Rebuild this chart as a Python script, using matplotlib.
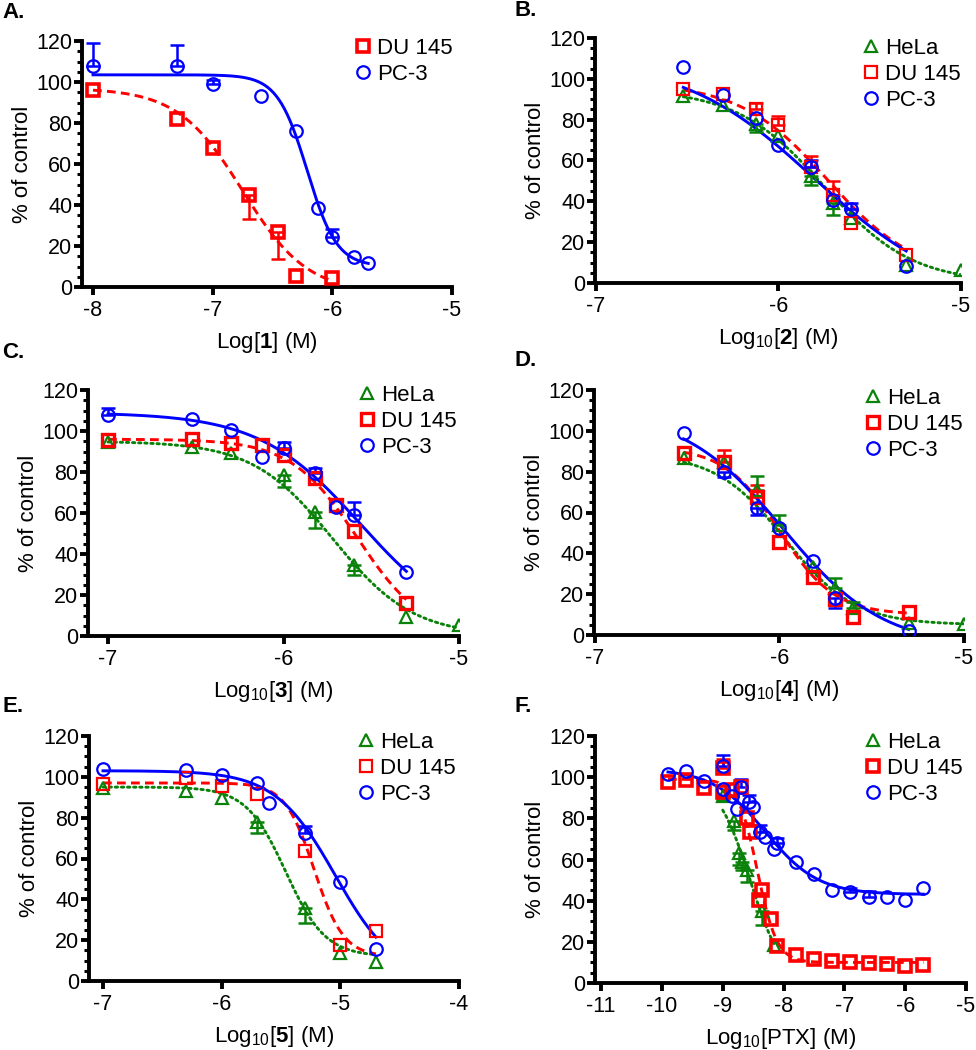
import numpy as np
import matplotlib
matplotlib.use('Agg')
import matplotlib.pyplot as plt
from matplotlib.ticker import MultipleLocator

plt.rcParams['font.family'] = ['Liberation Sans', 'DejaVu Sans']
plt.rcParams['mathtext.fontset'] = 'custom'
plt.rcParams['mathtext.rm'] = 'Liberation Sans'
plt.rcParams['mathtext.bf'] = 'Liberation Sans:bold'
plt.rcParams['mathtext.it'] = 'Liberation Sans:italic'

RED = '#ff0000'
BLUE = '#0000ff'
GREEN = '#0a820a'

# ---- data (log10 M, % of control) ----
# err: + = bar drawn up, - = bar drawn down ; fit = top, bottom, logIC50, hill
# A. compound 1
a_du_x = [-8.0, -7.3, -7.0, -6.7, -6.45, -6.3, -6.0]
a_du_y = [96, 82, 68, 45, 26.6, 5.5, 4.4]
a_du_err = [0, 0, 0, -12, -13, 0, 0]
a_du_fit = [97, -3, -6.75, 1.6]
a_pc_x = [-8.0, -7.3, -7.0, -6.6, -6.3, -6.12, -6.0, -5.82, -5.7]
a_pc_y = [108, 108, 99, 93, 76, 38.4, 24.2, 14.7, 11.8]
a_pc_err = [11, 10, 2, 0, 0, 0, 4, 0, 0]
a_pc_fit = [103.5, 10, -6.21, 3.5]

# B. compound 2
b_he_x = [-6.52, -6.3, -6.12, -6.0, -5.82, -5.7, -5.6, -5.3, -5.0]
b_he_y = [91.4, 87.3, 78, 71.8, 52.2, 39.2, 31.8, 9, 6.2]
b_he_err = [0, 0, -4, 0, -4, -6, 0, 0, 0]
b_he_fit = [95, 0, -5.75, 1.8]
b_du_x = [-6.52, -6.3, -6.12, -6.0, -5.82, -5.7, -5.6, -5.3]
b_du_y = [95, 92.6, 85.2, 77.6, 57, 43.3, 29.4, 13.6]
b_du_err = [0, 0, 3, 4, 5, 6.5, 0, 0]
b_du_fit = [98, 3, -5.73, 1.8]
b_pc_x = [-6.52, -6.3, -6.12, -6.0, -5.82, -5.7, -5.6, -5.3]
b_pc_y = [105.6, 92.2, 80.8, 67.8, 57, 40.8, 36.2, 8.2]
b_pc_err = [0, 0, 0, 0, 3, 0, 3, 0]
b_pc_fit = [110, -8, -5.8, 1.2]

# C. compound 3
c_he_x = [-7.0, -6.52, -6.3, -6.0, -5.82, -5.6, -5.3, -5.0]
c_he_y = [94.8, 92.4, 89.1, 78.5, 60.7, 34.6, 9.4, 5.4]
c_he_err = [0, 0, 0, -6, -8, -5, 0, 0]
c_he_fit = [95, 0, -5.72, 1.9]
c_du_x = [-7.0, -6.52, -6.3, -6.12, -6.0, -5.82, -5.7, -5.6, -5.3]
c_du_y = [95.6, 96, 94.3, 93.2, 88.3, 77, 63.9, 51, 15.9]
c_du_err = [0, 0, 0, 0, 0, 0, 0, 0, 0]
c_du_fit = [96, 0, -5.58, 2.3]
c_pc_x = [-7.0, -6.52, -6.3, -6.12, -6.0, -5.82, -5.7, -5.6, -5.3]
c_pc_y = [107.8, 105.9, 100.5, 87.5, 91.5, 79.3, 63.1, 59, 31.4]
c_pc_err = [3.5, 0, 0, 0, 3, 2.5, 0, 6.5, 0]
c_pc_fit = [109, 0, -5.56, 1.5]

# D. compound 4
d_he_x = [-6.52, -6.3, -6.12, -6.0, -5.82, -5.7, -5.6, -5.3, -5.0]
d_he_y = [86.5, 84.9, 71, 53.9, 33.5, 22.9, 13.1, 5.7, 5.2]
d_he_err = [0, 0, 7, 5, 0, 5, 3, 0, 0]
d_he_fit = [89, 5, -5.97, 2.3]
d_du_x = [-6.52, -6.3, -6.12, -6.0, -5.82, -5.7, -5.6, -5.3]
d_du_y = [89.3, 84.9, 67.8, 45.7, 28.6, 17.5, 9, 11.4]
d_du_err = [0, 5.7, 5.7, 0, 0, 0, 0, 0]
d_du_fit = [92, 10, -6.0, 2.9]
d_pc_x = [-6.52, -6.3, -6.12, -6.0, -5.82, -5.7, -5.3]
d_pc_y = [98.8, 80, 62, 52.2, 36.2, 18, 2.1]
d_pc_err = [0, -2.5, -3.2, 0, 0, -5, 0]
d_pc_fit = [110, -6, -5.98, 1.6]

# E. compound 5
e_he_x = [-7.0, -6.3, -6.0, -5.7, -5.3, -5.0, -4.7]
e_he_y = [94.7, 93.2, 89.5, 78, 35.6, 13.9, 9.5]
e_he_err = [0, 0, 0, -5.4, -7.4, 0, 0]
e_he_fit = [95, 12, -5.46, 2.6]
e_du_x = [-7.0, -6.3, -6.0, -5.7, -5.3, -5.0, -4.7]
e_du_y = [96.5, 99.3, 95.7, 91.4, 63.7, 17.6, 24.5]
e_du_err = [0, 0, 0, 0, 0, 0, 0]
e_du_fit = [97, 12, -5.22, 3.5]
e_pc_x = [-7.0, -6.3, -6.0, -5.7, -5.6, -5.3, -5.0, -4.7]
e_pc_y = [103.8, 103.3, 100.9, 97.1, 87.3, 72.3, 48.6, 15.5]
e_pc_err = [0, 0, 0, 0, 0, 3.6, 0, 0]
e_pc_fit = [103, 0, -5.04, 1.7]

# F. PTX
f_he_x = [-9.0, -8.82, -8.74, -8.68, -8.6, -8.36, -8.15]
f_he_y = [90.9, 78.8, 63, 59, 55, 35.1, 18.6]
f_he_err = [-2, -4.4, -5.6, -4, -5.7, -6.8, 0]
f_he_fit = [100, 0, -8.55, 1.6]
f_du_x = [-9.9, -9.6, -9.3, -9.0, -9.0, -8.84, -8.7, -8.6, -8.55, -8.4, -8.35,
          -8.2, -8.1, -7.8, -7.5, -7.2, -6.9, -6.6, -6.3, -6.0, -5.7]
f_du_y = [97.5, 98.7, 94.9, 104.6, 93, 93.8, 95, 80, 73.6, 40.4, 45.3,
          31, 17.8, 13.7, 11.6, 10.5, 10, 9.7, 9.4, 8.4, 8.9]
f_du_err = [0, 0, 0, 4, 0, 0, 0, 0, 0, 0, 0, 0, 0, 0, 0, 0, 0, 0, 0, 0, 0]
f_du_fit = [99, 10, -8.43, 2.7]
f_pc_x = [-9.9, -9.6, -9.3, -9.0, -9.0, -8.84, -8.76, -8.7, -8.56, -8.51, -8.38,
          -8.3, -8.15, -8.1, -7.8, -7.5, -7.2, -6.9, -6.6, -6.3, -6.0, -5.7]
f_pc_y = [101.4, 103, 98.3, 105.5, 94.1, 90.9, 84.6, 95.1, 87.7, 85.4, 73.6,
          70.8, 65, 67.9, 59, 52.9, 45, 44, 42, 42, 40.1, 46.1]
f_pc_err = [0, 0, 0, 5.5, 0, 0, 0, 4, 3.7, 0, 3, 0, 0, 2.5, 0, 0, 0, 2, 2.5, 0, 0, 0]
f_pc_fit = [104, 43, -8.3, 1.0]

W, H = 976, 1050
fig = plt.figure(figsize=(W / 100, H / 100), dpi=100)

LW = 2.1
FS = 15.5      # tick labels
FS_LAB = 16    # axis labels, legend


def sigmoid(x, p):
    top, bottom, ic50, hill = p
    return bottom + (top - bottom) / (1 + 10 ** ((x - ic50) * hill))


STYLE = {
    'HeLa': dict(color=GREEN, marker='^', ls=(0, (0.8, 1.3))),
    'DU 145': dict(color=RED, marker='s', ls=(0, (3.0, 1.8))),
    'PC-3': dict(color=BLUE, marker='o', ls='-'),
}


def panel(box, xlim, xticks, xlabel, series, legend_xy, sq_mew=1.6):
    left, right, top, bottom = box
    ax = fig.add_axes([left / W, 1 - bottom / H, (right - left) / W, (bottom - top) / H])
    handles = []
    for name, x, y, err, fit in series:
        st = STYLE[name]
        x = np.array(x)
        y = np.array(y)
        err = np.array(err, dtype=float)
        xx = np.linspace(x.min(), x.max(), 300)
        ax.plot(xx, sigmoid(xx, fit), color=st['color'], lw=LW, ls=st['ls'],
                dash_capstyle='round' if name == 'HeLa' else 'butt', zorder=2)
        lo = np.where(err < 0, -err, 0)
        hi = np.where(err > 0, err, 0)
        m = err != 0
        if m.any():
            ax.errorbar(x[m], y[m], yerr=[lo[m], hi[m]], fmt='none', ecolor=st['color'],
                        elinewidth=1.8, capsize=5, capthick=1.8, zorder=3)
        mew = sq_mew if name == 'DU 145' else 1.6
        h, = ax.plot(x, y, ls='none', marker=st['marker'], ms=9, mfc='none',
                     mec=st['color'], mew=mew, label=name, zorder=4)
        handles.append(h)

    ax.set_xlim(*xlim)
    ax.set_ylim(0, 120)
    ax.set_xticks(xticks)
    ax.set_xticklabels([str(t) for t in xticks])
    ax.set_yticks(range(0, 121, 20))
    ax.yaxis.set_minor_locator(MultipleLocator(5))
    for s in ['top', 'right']:
        ax.spines[s].set_visible(False)
    for s in ['left', 'bottom']:
        ax.spines[s].set_linewidth(2.8)
    ax.tick_params(which='major', length=5.5, width=2.8, labelsize=FS, pad=1.5)
    ax.tick_params(axis='x', which='major', pad=4)
    ax.tick_params(axis='y', which='minor', length=3.5, width=2.2)
    ax.set_xlabel(xlabel, fontsize=FS_LAB, labelpad=6)
    ax.set_ylabel('% of control', fontsize=FS_LAB, labelpad=2)
    for sp in ax.spines.values():
        sp.set_clip_on(False)

    lx, ly = legend_xy
    ax.legend(handles=handles, loc='upper left', bbox_to_anchor=(lx / W, 1 - ly / H),
              bbox_transform=fig.transFigure, frameon=False, fontsize=FS_LAB,
              handlelength=0.8, handletextpad=0.25, labelspacing=0.22,
              borderpad=0, borderaxespad=0, numpoints=1)
    return ax


panel((82, 452, 41, 287), (-8.092, -5), [-8, -7, -6, -5], r'Log[$\mathbf{1}$] (M)',
      [('DU 145', a_du_x, a_du_y, a_du_err, a_du_fit),
       ('PC-3', a_pc_x, a_pc_y, a_pc_err, a_pc_fit)],
      (354, 38), sq_mew=2.6)

panel((595, 961, 38, 283), (-7.003, -5), [-7, -6, -5], r'Log$_{10}$[$\mathbf{2}$] (M)',
      [('HeLa', b_he_x, b_he_y, b_he_err, b_he_fit),
       ('DU 145', b_du_x, b_du_y, b_du_err, b_du_fit),
       ('PC-3', b_pc_x, b_pc_y, b_pc_err, b_pc_fit)],
      (862, 38))

panel((88, 459, 390, 636), (-7.114, -5), [-7, -6, -5], r'Log$_{10}$[$\mathbf{3}$] (M)',
      [('HeLa', c_he_x, c_he_y, c_he_err, c_he_fit),
       ('DU 145', c_du_x, c_du_y, c_du_err, c_du_fit),
       ('PC-3', c_pc_x, c_pc_y, c_pc_err, c_pc_fit)],
      (358, 385), sq_mew=2.4)

panel((594, 964, 390, 635), (-7.005, -5), [-7, -6, -5], r'Log$_{10}$[$\mathbf{4}$] (M)',
      [('HeLa', d_he_x, d_he_y, d_he_err, d_he_fit),
       ('DU 145', d_du_x, d_du_y, d_du_err, d_du_fit),
       ('PC-3', d_pc_x, d_pc_y, d_pc_err, d_pc_fit)],
      (864, 388), sq_mew=2.4)

panel((89, 459, 736, 981), (-7.118, -4), [-7, -6, -5, -4], r'Log$_{10}$[$\mathbf{5}$] (M)',
      [('HeLa', e_he_x, e_he_y, e_he_err, e_he_fit),
       ('DU 145', e_du_x, e_du_y, e_du_err, e_du_fit),
       ('PC-3', e_pc_x, e_pc_y, e_pc_err, e_pc_fit)],
      (357, 732))

panel((595, 966, 736, 983), (-11.1, -5), [-11, -10, -9, -8, -7, -6, -5],
      r'Log$_{10}$[PTX] (M)',
      [('HeLa', f_he_x, f_he_y, f_he_err, f_he_fit),
       ('DU 145', f_du_x, f_du_y, f_du_err, f_du_fit),
       ('PC-3', f_pc_x, f_pc_y, f_pc_err, f_pc_fit)],
      (864, 732), sq_mew=2.6)

for lab, x, y in [('A.', 2, 13), ('B.', 514, 11), ('C.', 2, 353),
                  ('D.', 514, 360), ('E.', 2, 707), ('F.', 514, 707)]:
    fig.text(x / W, 1 - y / H, lab, fontsize=16, fontweight='bold', va='center', ha='left')

fig.savefig('out.png', dpi=100)
